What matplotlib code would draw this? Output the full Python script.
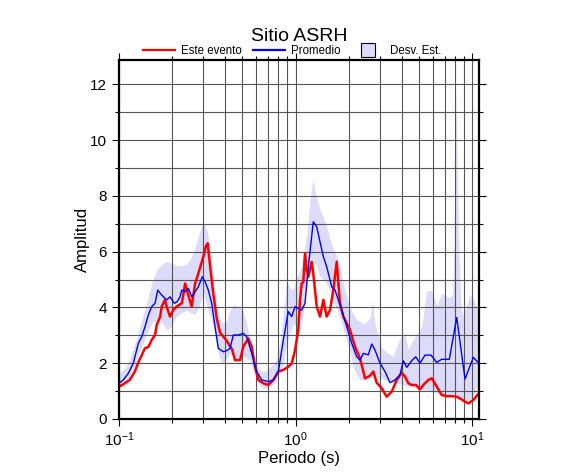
import matplotlib
matplotlib.use("Agg")
import matplotlib.pyplot as plt
from matplotlib.lines import Line2D
from matplotlib.ticker import LogLocator, MultipleLocator, NullFormatter

plt.rcParams['font.family'] = ['Liberation Sans', 'DejaVu Sans']

# Este evento (red)
event_period = [0.1, 0.106, 0.115, 0.123, 0.129, 0.1345, 0.140, 0.147, 0.153, 0.160, 0.1635,
                0.171, 0.1746, 0.182, 0.186, 0.1945, 0.203, 0.212, 0.227, 0.237, 0.247, 0.258,
                0.270, 0.2815, 0.3005, 0.310, 0.318, 0.328, 0.342, 0.358, 0.3735, 0.390, 0.408,
                0.426, 0.437, 0.454, 0.485, 0.506, 0.540, 0.565, 0.590, 0.616, 0.657, 0.7015,
                0.749, 0.799, 0.853, 0.910, 0.952, 0.994, 1.037, 1.061, 1.084, 1.107, 1.132,
                1.157, 1.182, 1.236, 1.261, 1.319, 1.377, 1.438, 1.502, 1.569, 1.638, 1.712,
                1.787, 1.866, 1.951, 2.037, 2.175, 2.321, 2.477, 2.644, 2.76, 2.885, 3.08,
                3.287, 3.509, 3.746, 3.998, 4.174, 4.358, 4.555, 4.817, 5.075, 5.298, 5.656,
                5.913, 6.311, 6.735, 7.193, 7.677, 8.193, 8.744, 9.13, 9.53, 10.17, 10.86]
event_amp = [1.16, 1.25, 1.40, 1.70, 2.05, 2.29, 2.53, 2.59, 2.83, 3.01, 3.37,
             3.67, 4.03, 4.27, 4.03, 3.67, 3.91, 4.03, 4.15, 4.86, 4.44, 4.03,
             4.86, 5.22, 5.82, 6.18, 6.30, 5.5, 4.5, 3.6, 3.1, 2.95, 2.8,
             2.6, 2.5, 2.11, 2.11, 2.59, 2.89, 2.59, 1.87, 1.40, 1.28, 1.22,
             1.40, 1.70, 1.76, 1.87, 1.99, 2.47, 3.19, 4.27, 4.86, 4.9, 5.94,
             5.34, 5.10, 5.64, 5.22, 4.03, 3.67, 4.27, 3.67, 3.91, 4.62, 5.64,
             4.15, 3.67, 3.43, 3.19, 2.59, 2.17, 1.46, 1.55, 1.70, 1.30, 1.10,
             0.80, 0.98, 1.40, 1.66, 1.52, 1.28, 1.22, 1.22, 1.06, 1.22, 1.40,
             1.46, 1.16, 0.86, 0.82, 0.82, 0.80, 0.70, 0.62, 0.56, 0.68, 0.90]

# Promedio (blue)
mean_period = [0.1, 0.1057, 0.1129, 0.1205, 0.1286, 0.1345, 0.1404, 0.1466, 0.1532, 0.160,
               0.1657, 0.1746, 0.1863, 0.1945, 0.2057, 0.2131, 0.2216, 0.2266, 0.2366, 0.247,
               0.2582, 0.2696, 0.2815, 0.2965, 0.3072, 0.3206, 0.3351, 0.3499, 0.3653, 0.390,
               0.4076, 0.4256, 0.4443, 0.4742, 0.5062, 0.5292, 0.5647, 0.6028, 0.6436, 0.7015,
               0.7487, 0.7991, 0.853, 0.9105, 0.9518, 0.9936, 1.084, 1.132, 1.182, 1.261,
               1.319, 1.377, 1.438, 1.502, 1.604, 1.675, 1.748, 1.827, 1.951, 2.083,
               2.223, 2.321, 2.423, 2.585, 2.703, 2.822, 3.012, 3.215, 3.432, 3.663,
               3.91, 4.082, 4.267, 4.555, 4.798, 5.075, 5.418, 5.859, 6.311, 6.735,
               7.44, 8.193, 9.13, 10.17, 10.86]
mean_amp = [1.28, 1.40, 1.64, 2.0, 2.71, 2.95, 3.31, 3.73, 4.03, 4.15,
            4.62, 4.44, 4.27, 4.38, 4.15, 4.2, 4.38, 4.62, 4.56, 4.68,
            4.38, 4.56, 4.74, 5.10, 4.92, 4.62, 4.15, 3.31, 2.53, 2.41,
            2.45, 2.53, 3.01, 3.01, 3.07, 2.95, 2.35, 1.70, 1.40, 1.34,
            1.40, 1.70, 2.83, 3.85, 3.67, 4.03, 3.90, 4.15, 5.46, 7.07,
            6.89, 6.35, 5.82, 5.46, 4.74, 4.62, 4.27, 3.91, 3.31, 2.71,
            2.23, 2.11, 2.35, 2.30, 2.69, 2.47, 2.0, 1.70, 1.30, 1.40,
            1.58, 2.09, 1.85, 2.09, 2.23, 2.0, 2.29, 2.29, 2.03, 2.14,
            2.14, 3.64, 1.43, 2.21, 2.02]

# Desv. Est. band
band_period = [0.1, 0.1053, 0.1125, 0.120, 0.1281, 0.1368, 0.146, 0.1538, 0.1635, 0.1746,
               0.1863, 0.197, 0.2123, 0.2266, 0.2419, 0.2559, 0.2696, 0.2877, 0.3005, 0.3141,
               0.3235, 0.3351, 0.3499, 0.3639, 0.3785, 0.3934, 0.4092, 0.4256, 0.4443, 0.4646,
               0.4849, 0.5062, 0.5244, 0.5524, 0.5744, 0.6028, 0.6294, 0.6572, 0.6898, 0.7173,
               0.7487, 0.7826, 0.8171, 0.853, 0.8916, 0.9309, 0.9718, 1.016, 1.061, 1.107,
               1.157, 1.209, 1.252, 1.319, 1.377, 1.438, 1.502, 1.569, 1.638, 1.712,
               1.787, 1.866, 1.951, 2.037, 2.127, 2.223, 2.321, 2.423, 2.532, 2.644,
               2.738, 2.822, 2.946, 3.08, 3.215, 3.432, 3.584, 3.746, 3.998, 4.174,
               4.358, 4.555, 4.754, 4.963, 5.189, 5.347, 5.538, 5.913, 6.311, 6.735,
               7.193, 7.508, 7.756, 7.909, 8.118, 8.387, 8.666, 8.93, 9.37, 9.745,
               10.17, 10.63, 10.96]
band_low = [1.1, 1.25, 1.45, 1.8, 2.3, 2.7, 3.15, 3.45, 3.55, 3.45,
            3.2, 3.3, 3.7, 3.8, 3.9, 3.8, 3.75, 4.1, 4.5, 4.05,
            3.8, 3.55, 3.05, 2.4, 2.05, 2.0, 2.2, 2.35, 2.3, 2.1,
            2.15, 2.25, 2.2, 2.1, 1.8, 1.4, 1.2, 1.1, 1.1, 1.15,
            1.25, 1.4, 1.7, 2.0, 2.7, 3.1, 3.4, 3.35, 3.1, 3.8,
            4.9, 5.8, 5.7, 5.45, 5.1, 5.0, 4.85, 4.6, 4.25, 3.95,
            3.65, 3.2, 2.8, 2.4, 1.85, 1.6, 1.4, 1.4, 1.45, 1.5,
            1.5, 1.5, 1.5, 1.45, 1.4, 1.35, 1.3, 1.3, 1.25, 1.2,
            1.15, 1.15, 1.12, 1.1, 1.07, 1.05, 1.03, 1.0, 0.93, 0.9,
            0.88, 0.85, 0.82, 0.8, 0.78, 0.75, 0.7, 0.68, 0.68, 0.7,
            0.85, 1.05, 1.15]
band_high = [1.65, 1.75, 2.0, 2.5, 3.05, 3.7, 4.35, 4.9, 5.35, 5.55,
             5.65, 5.6, 5.5, 5.5, 5.55, 5.8, 6.15, 6.75, 7.05, 6.8,
             6.4, 5.6, 4.6, 3.8, 3.5, 3.45, 3.55, 3.9, 4.1, 4.05,
             4.0, 3.85, 3.5, 2.85, 2.3, 1.9, 1.75, 1.7, 1.75, 1.85,
             1.95, 2.15, 2.7, 3.8, 4.95, 4.7, 4.65, 5.1, 5.3, 5.85,
             6.6, 7.85, 8.6, 7.9, 7.5, 7.25, 6.9, 6.45, 6.1, 5.85,
             5.4, 4.85, 4.4, 4.0, 3.75, 3.55, 3.5, 3.4, 3.5, 3.65,
             4.25, 3.4, 3.0, 2.55, 2.45, 2.3, 2.25, 2.6, 3.05, 3.0,
             2.5, 2.75, 2.95, 3.1, 3.3, 3.9, 4.6, 4.6, 4.05, 4.5,
             4.4, 4.35, 4.5, 6.0, 11.8, 6.5, 4.0, 3.7, 4.1, 4.45,
             4.3, 4.0, 4.0]

fig = plt.figure(figsize=(5.86, 4.75), dpi=100)
ax = fig.add_axes([0.2031, 0.1179, 0.6148, 0.7558])

ax.fill_between(band_period, band_low, band_high, color='#dcdcfa', lw=0, zorder=1)
ax.plot(event_period, event_amp, color='red', lw=1.8, zorder=2)
ax.plot(mean_period, mean_amp, color='blue', lw=1.0, zorder=3)

ax.set_xscale('log')
ax.set_xlim(0.1, 11)
ax.set_ylim(0, 12.87)
ax.xaxis.set_major_locator(LogLocator(base=10))
ax.xaxis.set_minor_locator(LogLocator(base=10, subs=range(2, 10)))
ax.xaxis.set_minor_formatter(NullFormatter())
ax.yaxis.set_major_locator(MultipleLocator(2))
ax.yaxis.set_minor_locator(MultipleLocator(1))

ax.set_axisbelow('line')
ax.grid(which='both', color='#555555', lw=0.8)
for s in ax.spines.values():
    s.set_linewidth(1.6)
ax.tick_params(which='both', direction='out', top=True, right=True, labelsize=11, width=0.8)
ax.tick_params(which='major', length=5)
ax.tick_params(which='minor', length=3)

ax.set_xlabel('Periodo (s)', fontsize=12, labelpad=1)
ax.set_ylabel('Amplitud', fontsize=12, labelpad=0.5)
ax.set_title('Sitio ASRH', fontsize=14, pad=14)

handles = [Line2D([], [], color='red', lw=1.6),
           Line2D([], [], color='blue', lw=1.6),
           Line2D([], [], ls='None', marker='s', markersize=10,
                  markerfacecolor='#dcdcfa', markeredgecolor='black', markeredgewidth=0.8)]
ax.legend(handles, ['Este evento', 'Promedio', 'Desv. Est.'], loc='lower center',
          bbox_to_anchor=(0.48, 0.995), ncol=3, frameon=False, fontsize=8.3,
          handlelength=2.8, handletextpad=0.5, columnspacing=1.0, borderaxespad=0)

fig.savefig('out.png', dpi=100)
